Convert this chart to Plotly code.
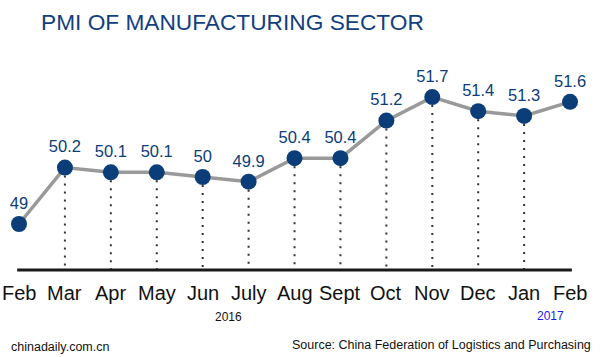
import plotly.graph_objects as go

months = ["Feb", "Mar", "Apr", "May", "Jun", "July", "Aug", "Sept", "Oct", "Nov", "Dec", "Jan", "Feb"]
pmi = [49, 50.2, 50.1, 50.1, 50, 49.9, 50.4, 50.4, 51.2, 51.7, 51.4, 51.3, 51.6]
value_labels = ["49", "50.2", "50.1", "50.1", "50", "49.9", "50.4", "50.4", "51.2", "51.7", "51.4", "51.3", "51.6"]
year_labels = ["2016", "2017"]
title_text = "PMI OF MANUFACTURING SECTOR"
source_text = "Source: China Federation of Logistics and Purchasing"
site_text = "chinadaily.com.cn"

W, H = 600, 357
BLUE = "#0b3d78"
FONT = "Liberation Sans, Arial, sans-serif"

idx = list(range(len(months)))
base = 48.02

# x mapping: index 0 -> 19px, per index 45.92px
px_per_idx = 45.92
x0px = 19
xr = [-x0px / px_per_idx, (W - x0px) / px_per_idx]
# y mapping: 49 -> 224px, 47px per unit
px_per_unit = 47.0
ytop = 49 + 224 / px_per_unit
yr = [ytop - H / px_per_unit, ytop]

fig = go.Figure()

# dotted drop lines (not for first and last)
dx, dy = [], []
for i in idx[1:-1]:
    dx += [i, i, None]
    dy += [pmi[i], base, None]
fig.add_trace(go.Scatter(x=dx, y=dy, mode="lines",
                         line=dict(color="#333333", width=2, dash="2px,6px"),
                         hoverinfo="skip", showlegend=False))

# base axis line
fig.add_trace(go.Scatter(x=[idx[0] - 0.04, idx[-1] + 0.04], y=[base, base], mode="lines",
                         line=dict(color="#1a1a1a", width=3),
                         hoverinfo="skip", showlegend=False))

fig.add_trace(go.Scatter(x=idx, y=pmi, mode="lines+markers+text",
                         line=dict(color="#999999", width=3.5),
                         marker=dict(size=16, color=BLUE),
                         text=value_labels, textposition="top center",
                         textfont=dict(family=FONT, size=16.5, color=BLUE),
                         showlegend=False))

annotations = []
for i, m in enumerate(months):
    annotations.append(dict(x=i, y=1 - 293 / H, xref="x", yref="paper", text=m,
                            showarrow=False, xanchor="center", yanchor="middle",
                            font=dict(family=FONT, size=20, color="#111111")))

annotations.append(dict(x=(228 - x0px) / px_per_idx, y=1 - 317 / H, xref="x", yref="paper",
                        text=year_labels[0], showarrow=False, xanchor="center", yanchor="middle",
                        font=dict(family=FONT, size=12, color="#111111")))
annotations.append(dict(x=(550 - x0px) / px_per_idx, y=1 - 316 / H, xref="x", yref="paper",
                        text=year_labels[1], showarrow=False, xanchor="center", yanchor="middle",
                        font=dict(family=FONT, size=12, color="#1a1ae6")))
annotations.append(dict(x=9 / W, y=1 - 347 / H, xref="paper", yref="paper",
                        text=site_text, showarrow=False, xanchor="left", yanchor="middle",
                        font=dict(family=FONT, size=12.5, color="#111111")))
annotations.append(dict(x=593 / W, y=1 - 345 / H, xref="paper", yref="paper",
                        text=source_text, showarrow=False, xanchor="right", yanchor="middle",
                        font=dict(family=FONT, size=12.5, color="#111111")))
annotations.append(dict(x=232 / W, y=1 - 22 / H, xref="paper", yref="paper",
                        text=title_text, showarrow=False, xanchor="center", yanchor="middle",
                        font=dict(family=FONT, size=22.7, color="#123f7f")))

fig.update_layout(
    width=W, height=H,
    margin=dict(l=0, r=0, t=0, b=0),
    paper_bgcolor="white", plot_bgcolor="white",
    xaxis=dict(range=xr, visible=False, fixedrange=True),
    yaxis=dict(range=yr, visible=False, fixedrange=True),
    annotations=annotations,
)

fig.write_html("out.html",
               config={"displayModeBar": False},
               post_script="document.body.style.margin='0';document.body.style.overflow='hidden';")
